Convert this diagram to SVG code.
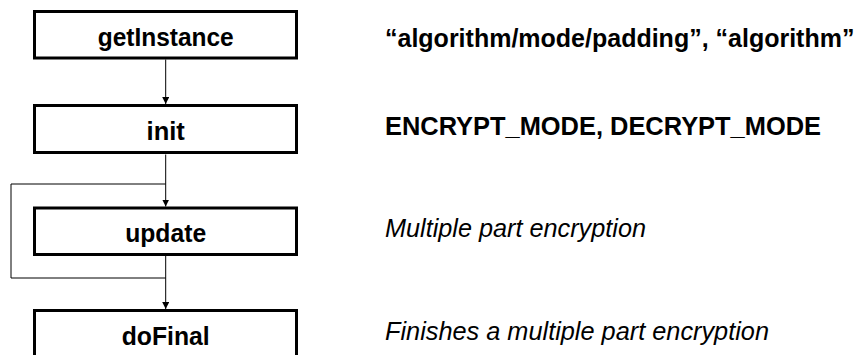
<svg xmlns="http://www.w3.org/2000/svg" width="861" height="355" viewBox="0 0 861 355">
<style>
.box{fill:#fff;stroke:#000;stroke-width:3}
.lbl{font-family:"Liberation Sans",Arial,sans-serif;font-weight:bold;font-size:25.5px;text-anchor:middle;fill:#000}
.desc{font-family:"Liberation Sans",Arial,sans-serif;font-size:25.5px;fill:#000}
.b{font-weight:bold}
.i{font-style:italic}
.ln{fill:none;stroke:#000;stroke-width:1}
</style>
<defs>
<marker id="ah" markerWidth="8" markerHeight="8" refX="7" refY="3.5" orient="auto" markerUnits="userSpaceOnUse">
<path d="M0,0 L7,3.5 L0,7 Z" fill="#000"/>
</marker>
</defs>
<rect width="861" height="355" fill="#fff"/>
<g id="connectors">
<line class="ln" x1="165.7" y1="59.5" x2="165.7" y2="104" marker-end="url(#ah)"/>
<line class="ln" x1="165.7" y1="154.5" x2="165.7" y2="206.5" marker-end="url(#ah)"/>
<line class="ln" x1="165.7" y1="256" x2="165.7" y2="309" marker-end="url(#ah)"/>
<path class="ln" d="M165.7,278 H11 V184 H165.7"/>
</g>
<g id="node-getInstance">
<rect class="box" x="34.5" y="11.5" width="262" height="46.5"/>
<text class="lbl" x="165.7" y="45.8" textLength="136" lengthAdjust="spacingAndGlyphs">getInstance</text>
</g>
<g id="node-init">
<rect class="box" x="34.5" y="105.5" width="262" height="47"/>
<text class="lbl" x="165.7" y="139.8">init</text>
</g>
<g id="node-update">
<rect class="box" x="34.5" y="208" width="262" height="46.5"/>
<text class="lbl" x="165.7" y="241.8" textLength="81" lengthAdjust="spacingAndGlyphs">update</text>
</g>
<g id="node-doFinal">
<rect class="box" x="34.5" y="310.5" width="262" height="47"/>
<text class="lbl" x="165.7" y="344.8" textLength="88" lengthAdjust="spacingAndGlyphs">doFinal</text>
</g>
<g id="descriptions">
<text class="desc b" x="385" y="47" font-size="25" style="font-size:25px">“algorithm/mode/padding”, “algorithm”</text>
<text class="desc b" x="385" y="135" textLength="436" lengthAdjust="spacingAndGlyphs">ENCRYPT_MODE, DECRYPT_MODE</text>
<text class="desc i" x="385" y="237" textLength="261" lengthAdjust="spacingAndGlyphs">Multiple part encryption</text>
<text class="desc i" x="385" y="340" textLength="384" lengthAdjust="spacingAndGlyphs">Finishes a multiple part encryption</text>
</g>
</svg>
